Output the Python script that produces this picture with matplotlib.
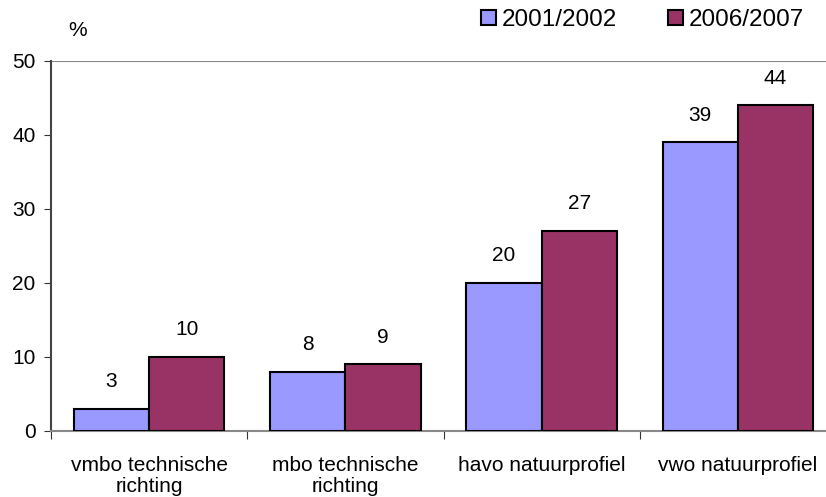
import matplotlib
matplotlib.use('Agg')
import matplotlib.pyplot as plt
import numpy as np

categories = ['vmbo technische\nrichting', 'mbo technische\nrichting',
              'havo natuurprofiel', 'vwo natuurprofiel']
series = ['2001/2002', '2006/2007']
vals_0102 = [3, 8, 20, 39]
vals_0607 = [10, 9, 27, 44]
colors = ['#9999ff', '#993366']

plt.rcParams['font.family'] = ['Liberation Sans', 'DejaVu Sans']
plt.rcParams['font.size'] = 15

fig = plt.figure(figsize=(8.26, 4.97), dpi=100)
ax = fig.add_axes([51/826, 1-431/497, 785/826, 370/497])

x = np.arange(len(categories))
w = 0.383
for i, (vals, lab) in enumerate(zip([vals_0102, vals_0607], series)):
    pos = x + (i - 0.5) * w
    ax.bar(pos, vals, w, color=colors[i], edgecolor='black', linewidth=1.5,
           label=lab, zorder=3)
    for p, v in zip(pos, vals):
        ax.text(p, v + 2.4, str(v), ha='center', va='bottom')

ax.set_xlim(-0.5, 3.5)
ax.set_ylim(0, 50)
ax.set_yticks([0, 10, 20, 30, 40, 50])
ax.set_xticks(np.arange(-0.5, 3.5, 1))
ax.set_xticklabels([])
ax.set_xticks(x, minor=True)
ax.set_xticklabels(categories, minor=True, linespacing=1.1)
ax.tick_params(axis='x', which='minor', length=0, pad=18)
ax.tick_params(axis='x', which='major', length=6, color='#333333')
ax.tick_params(axis='y', length=5, color='#333333', pad=6)

for s in ['top', 'right']:
    ax.spines[s].set_visible(False)
ax.spines['left'].set_color('#444444')
ax.spines['left'].set_linewidth(1.5)
ax.spines['bottom'].set_color('#888888')
ax.spines['bottom'].set_linewidth(1.5)
ax.axhline(50, color='#888888', linewidth=1.5, zorder=1)

ax.text(-0.41, 52.8, '%', ha='left', va='bottom')

fig.legend(loc='center right', bbox_to_anchor=(804/826, 1 - 20/497), ncol=2,
           frameon=False, fontsize=17.5, handlelength=0.6, handleheight=0.6,
           handletextpad=0.25, columnspacing=2.1, borderaxespad=0,
           borderpad=0)

fig.savefig('out.png', dpi=100)
